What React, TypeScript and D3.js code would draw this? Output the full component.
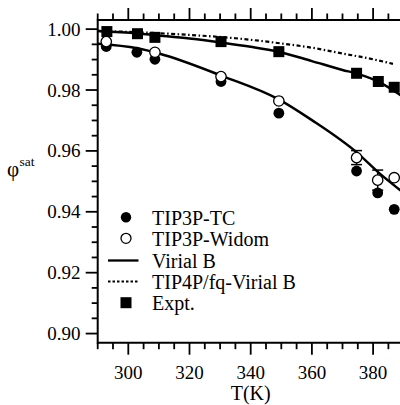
import React from "react";
import * as d3 from "d3";

// ---- data ----
const exptT = [293, 303, 308.7, 330.3, 349.2, 374.6, 381.7, 386.9];
const exptPhi = [0.9992, 0.9985, 0.9973, 0.9959, 0.9926, 0.9855, 0.9828, 0.9809];

const tcT = [292.8, 302.8, 308.7, 330.3, 349.2, 374.6, 381.5, 386.9];
const tcPhi = [0.9943, 0.9924, 0.9901, 0.9828, 0.9724, 0.9534, 0.9462, 0.9408];

const widomT = [292.8, 308.7, 330.3, 349.2, 374.6, 381.5, 386.9];
const widomPhi = [0.9959, 0.9924, 0.9844, 0.9764, 0.9578, 0.9504, 0.9512];
const widomErr = [0, 0, 0, 0, 0.0023, 0.0033, 0];

const virialT = [290, 303, 310, 331, 349, 360, 375, 382, 389];
const virialPhi = [0.9952, 0.9937, 0.992, 0.9845, 0.977, 0.9701, 0.9592, 0.9527, 0.947];

const exptFitT = [290, 303, 309, 320, 331, 340, 349, 360, 370, 375, 382, 389];
const exptFitPhi = [0.9994, 0.9986, 0.998, 0.9969, 0.9955, 0.9942, 0.9926, 0.9895, 0.9866, 0.9853, 0.9826, 0.9783];

const fqT = [290, 305, 320, 335, 350, 360, 370, 380, 386.5];
const fqPhi = [0.9994, 0.9989, 0.9981, 0.997, 0.9953, 0.9939, 0.992, 0.9901, 0.9886];

const xTicks = d3.range(290, 391, 5);
const xLabels = [300, 320, 340, 360, 380];
const yTicks = d3.range(0, 21).map((i) => 0.9 + i * 0.005);
const yLabels = ["0.90", "0.92", "0.94", "0.96", "0.98", "1.00"];

const legendItems = ["TIP3P-TC", "TIP3P-Widom", "Virial B", "TIP4P/fq-Virial B", "Expt."];

const FONT = "Liberation Serif, Tinos, Times New Roman, Times, DejaVu Serif, serif";

export default function App() {
  const x = d3.scaleLinear().domain([290, 390]).range([97.7, 403.7]);
  const y = d3.scaleLinear().domain([0.897, 1.003]).range([342.7, 20]);
  const left = x(290);
  const right = x(390);
  const top = y(1.003);
  const bottom = y(0.897);

  const line = d3
    .line<[number, number]>()
    .x((d) => x(d[0]))
    .y((d) => y(d[1]))
    .curve(d3.curveMonotoneX);

  const virialPts = virialT.map((t, i) => [t, virialPhi[i]] as [number, number]);
  const exptFitPts = exptFitT.map((t, i) => [t, exptFitPhi[i]] as [number, number]);
  const fqPts = fqT.map((t, i) => [t, fqPhi[i]] as [number, number]);

  const isMajorX = (t: number) => Math.abs(t % 20) < 1e-6;
  const isMajorY = (v: number) => Math.abs(Math.round(v * 1000) % 20) === 0;

  const sq = 11;
  const legX = 126;
  const legY = [217.3, 238.3, 260.5, 281.5, 302.7];
  const txt = { fontFamily: FONT };

  return (
    <svg
      width={400}
      height={405}
      style={{ position: "absolute", left: 0, top: 0, background: "#fff", fontFamily: FONT }}
    >
      <rect x={0} y={0} width={400} height={405} fill="#fff" />
      {/* frame */}
      <g stroke="#000" strokeWidth={2} fill="none">
        <line x1={left} x2={right + 5} y1={bottom} y2={bottom} />
        <line x1={left} x2={right + 5} y1={top} y2={top} />
        <line x1={left} x2={left} y1={top - 1} y2={bottom + 1} />
        <line x1={right} x2={right} y1={top} y2={bottom} />
      </g>
      {/* ticks */}
      <g stroke="#000" strokeWidth={1.8}>
        {xTicks.map((t) => (
          <g key={"xt" + t}>
            <line x1={x(t)} x2={x(t)} y1={bottom} y2={bottom + (isMajorX(t) ? 12 : 6.5)} />
            <line x1={x(t)} x2={x(t)} y1={top} y2={top - (isMajorX(t) ? 12 : 6.5)} />
          </g>
        ))}
        {yTicks.map((v) => (
          <line
            key={"yt" + v}
            x1={left}
            x2={left - (isMajorY(v) ? 12 : 6)}
            y1={y(v)}
            y2={y(v)}
          />
        ))}
      </g>
      {/* tick labels */}
      <g fontSize={19} fill="#000" style={txt}>
        {xLabels.map((t) => (
          <text key={"xl" + t} x={x(t)} y={379} textAnchor="middle" style={txt}>
            {t}
          </text>
        ))}
        {yLabels.map((s) => (
          <text key={"yl" + s} x={80.5} y={y(+s) + 6.5} textAnchor="end" style={txt}>
            {s}
          </text>
        ))}
      </g>
      {/* axis titles */}
      <text x={250.7} y={400} textAnchor="middle" fontSize={20} style={txt}>
        T(K)
      </text>
      <text x={7} y={176} fontSize={21} style={txt}>
        φ
      </text>
      <text x={19.5} y={166} fontSize={13.5} style={txt}>
        sat
      </text>

      {/* curves */}
      <path d={line(fqPts) || ""} fill="none" stroke="#000" strokeWidth={2.2} strokeDasharray="4,2.5,1.5,2.5" />
      <path d={line(exptFitPts) || ""} fill="none" stroke="#000" strokeWidth={2.5} />
      <path d={line(virialPts) || ""} fill="none" stroke="#000" strokeWidth={2.5} />

      {/* widom error bars */}
      <g stroke="#000" strokeWidth={1.5}>
        {widomT.map((t, i) =>
          widomErr[i] > 0 ? (
            <g key={"e" + i}>
              <line x1={x(t)} x2={x(t)} y1={y(widomPhi[i] + widomErr[i])} y2={y(widomPhi[i] - widomErr[i])} />
              <line x1={x(t) - 5.5} x2={x(t) + 5.5} y1={y(widomPhi[i] + widomErr[i])} y2={y(widomPhi[i] + widomErr[i])} />
              <line x1={x(t) - 5.5} x2={x(t) + 5.5} y1={y(widomPhi[i] - widomErr[i])} y2={y(widomPhi[i] - widomErr[i])} />
            </g>
          ) : null
        )}
      </g>

      {/* expt squares */}
      {exptT.map((t, i) => (
        <rect key={"s" + i} x={x(t) - sq / 2} y={y(exptPhi[i]) - sq / 2} width={sq} height={sq} fill="#000" />
      ))}
      {/* TC filled circles */}
      {tcT.map((t, i) => (
        <circle key={"c" + i} cx={x(t)} cy={y(tcPhi[i])} r={5.4} fill="#000" />
      ))}
      {/* widom open circles */}
      {widomT.map((t, i) => (
        <circle key={"o" + i} cx={x(t)} cy={y(widomPhi[i])} r={5.2} fill="#fff" stroke="#000" strokeWidth={1.3} />
      ))}

      {/* legend */}
      <g>
        <circle cx={legX} cy={legY[0]} r={5.2} fill="#000" />
        <circle cx={legX} cy={legY[1]} r={5} fill="#fff" stroke="#000" strokeWidth={1.3} />
        <line x1={108} x2={138.5} y1={legY[2]} y2={legY[2]} stroke="#000" strokeWidth={2.3} />
        <line x1={108} x2={138.5} y1={legY[3]} y2={legY[3]} stroke="#000" strokeWidth={2} strokeDasharray="2.5,2" />
        <rect x={legX - 5.5} y={legY[4] - 5.5} width={11} height={11} fill="#000" />
        {legendItems.map((s, i) => (
          <text key={"lg" + i} x={152} y={legY[i] + 7.5} fontSize={20} style={txt}>
            {s}
          </text>
        ))}
      </g>
    </svg>
  );
}
